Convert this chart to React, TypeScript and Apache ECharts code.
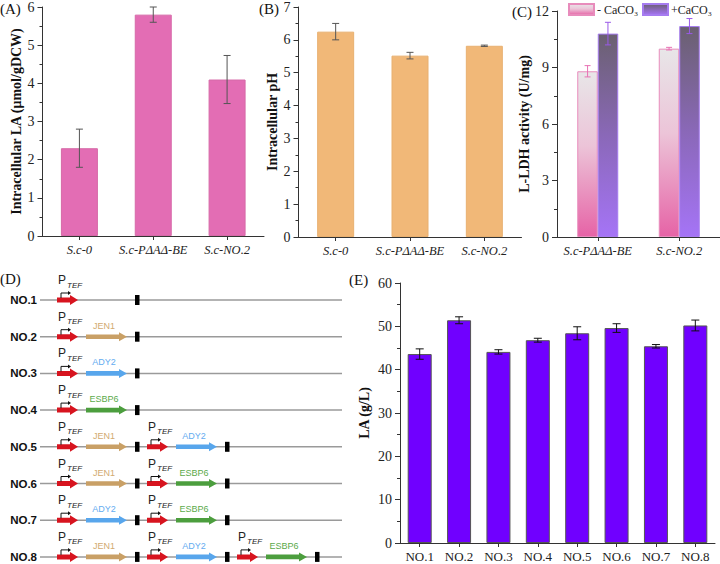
import React, { useEffect, useRef } from "react";
import * as echarts from "echarts";

const strainsAB = ["S.c-0", "S.c-PΔAΔ-BE", "S.c-NO.2"];
const laValues = [2.3, 5.8, 4.1];
const laErrors = [0.5, 0.2, 0.63];
const phValues = [6.25, 5.52, 5.82];
const phErrors = [0.25, 0.1, 0.02];
const strainsC = ["S.c-PΔAΔ-BE", "S.c-NO.2"];
const ldhMinus = [8.8, 10.0];
const ldhMinusErr = [0.3, 0.07];
const ldhPlus = [10.8, 11.2];
const ldhPlusErr = [0.6, 0.4];
const constructNames = ["NO.1", "NO.2", "NO.3", "NO.4", "NO.5", "NO.6", "NO.7", "NO.8"];
const titerValues = [43.6, 51.4, 44.1, 46.8, 48.4, 49.6, 45.4, 50.2];
const titerErrors = [1.2, 0.8, 0.5, 0.45, 1.5, 1.0, 0.4, 1.25];
const constructGenes: string[][] = [
  [""],
  ["JEN1"],
  ["ADY2"],
  ["ESBP6"],
  ["JEN1", "ADY2"],
  ["JEN1", "ESBP6"],
  ["ADY2", "ESBP6"],
  ["JEN1", "ADY2", "ESBP6"],
];
const geneColors: Record<string, string> = { JEN1: "#c9a066", ADY2: "#58a6ec", ESBP6: "#4c9e3e" };
const geneTextColors: Record<string, string> = { JEN1: "#d2aa70", ADY2: "#64acf0", ESBP6: "#5aaa4a" };

const SERIF = "'Liberation Serif', 'Times New Roman', serif";
const SANS = "'Liberation Sans', Arial, sans-serif";

function errorRender(offsetFrac: number, capHalf: number, color: string) {
  return (params: any, api: any) => {
    const idx = api.value(0);
    const lo = api.coord([idx, api.value(1)]);
    const hi = api.coord([idx, api.value(2)]);
    const band = api.size([1, 0])[0];
    const x = lo[0] + band * offsetFrac;
    const style = { stroke: color, lineWidth: 1 };
    return {
      type: "group",
      children: [
        { type: "line", shape: { x1: x, y1: lo[1], x2: x, y2: hi[1] }, style },
        { type: "line", shape: { x1: x - capHalf, y1: lo[1], x2: x + capHalf, y2: lo[1] }, style },
        { type: "line", shape: { x1: x - capHalf, y1: hi[1], x2: x + capHalf, y2: hi[1] }, style },
      ],
    };
  };
}

function errData(vals: number[], errs: number[]) {
  return vals.map((v, i) => [i, v - errs[i], v + errs[i]]);
}

function yAxisBase(grid: number, max: number, interval: number, name: string, nameGap: number) {
  return {
    type: "value",
    gridIndex: grid,
    min: 0,
    max,
    interval,
    name,
    nameLocation: "middle",
    nameGap,
    nameTextStyle: { fontFamily: SERIF, fontWeight: "bold", fontSize: 14, color: "#111" },
    axisLine: { show: true, lineStyle: { color: "#333", width: 1 } },
    axisTick: { show: true, length: 5, lineStyle: { color: "#333" } },
    minorTick: { show: true, splitNumber: 2, length: 3, lineStyle: { color: "#333" } },
    splitLine: { show: false },
    axisLabel: { fontFamily: SERIF, fontSize: 14, color: "#222", margin: 8 },
  };
}

function xAxisBase(grid: number, data: string[], italic: boolean) {
  return {
    type: "category",
    gridIndex: grid,
    data,
    axisLine: { show: true, lineStyle: { color: "#333", width: 1 } },
    axisTick: { show: true, alignWithLabel: true, length: 4, lineStyle: { color: "#333" } },
    axisLabel: {
      fontFamily: SERIF,
      fontSize: italic ? 12.5 : 13,
      fontStyle: italic ? "italic" : "normal",
      color: "#222",
      margin: 7,
      interval: 0,
    },
  };
}

function buildSchematic() {
  const els: any[] = [];
  const rowY0 = 300;
  const rowStep = 36.7;
  constructNames.forEach((name, i) => {
    const y = rowY0 + i * rowStep;
    els.push({
      type: "text",
      style: { text: name, x: 37, y, align: "right", verticalAlign: "middle", font: `bold 11.5px ${SANS}`, fill: "#111" },
    });
    els.push({
      type: "line",
      shape: { x1: 40, y1: y, x2: 342, y2: y },
      style: { stroke: "#9a9a9a", lineWidth: 1.5 },
    });
    constructGenes[i].forEach((gene, k) => {
      const p = 57 + k * 90;
      // promoter arrow
      els.push({
        type: "polygon",
        shape: {
          points: [
            [p, y - 2.5], [p + 13, y - 2.5], [p + 13, y - 5], [p + 21, y],
            [p + 13, y + 5], [p + 13, y + 2.5], [p, y + 2.5],
          ],
        },
        style: { fill: "#d7141f" },
      });
      // bent arrow
      els.push({
        type: "polyline",
        shape: { points: [[p + 4, y - 2], [p + 4, y - 7], [p + 11, y - 7]] },
        style: { stroke: "#111", lineWidth: 1, fill: null },
      });
      els.push({
        type: "polygon",
        shape: { points: [[p + 11, y - 9], [p + 14, y - 7], [p + 11, y - 5]] },
        style: { fill: "#111" },
      });
      // P TEF label
      els.push({
        type: "text",
        style: { text: "P", x: p + 1, y: y - 20, align: "left", verticalAlign: "middle", font: `12px ${SANS}`, fill: "#222" },
      });
      els.push({
        type: "text",
        style: { text: "TEF", x: p + 10, y: y - 15, align: "left", verticalAlign: "middle", font: `italic 8px ${SANS}`, fill: "#222" },
      });
      if (gene) {
        const g0 = p + 29;
        els.push({
          type: "polygon",
          shape: {
            points: [
              [g0, y - 2.3], [g0 + 33, y - 2.3], [g0 + 33, y - 4.5], [g0 + 41, y],
              [g0 + 33, y + 4.5], [g0 + 33, y + 2.3], [g0, y + 2.3],
            ],
          },
          style: { fill: geneColors[gene] },
        });
        els.push({
          type: "text",
          style: { text: gene, x: g0 + 18, y: y - 11, align: "center", verticalAlign: "middle", font: `9px ${SANS}`, fill: geneTextColors[gene] },
        });
      }
      // terminator
      els.push({ type: "rect", shape: { x: p + 78, y: y - 5, width: 4.5, height: 10 }, style: { fill: "#000" } });
    });
  });
  const panel = (t: string, x: number, y: number) => ({
    type: "text",
    style: { text: t, x, y, align: "left", verticalAlign: "middle", font: `15px ${SERIF}`, fill: "#111" },
  });
  els.push(panel("(A)", 0, 9));
  els.push(panel("(B)", 259, 9));
  els.push(panel("(C)", 512, 12));
  els.push(panel("(D)", 0, 279));
  els.push(panel("(E)", 349, 280));
  return els;
}

export default function App() {
  const ref = useRef<HTMLDivElement>(null);
  useEffect(() => {
    if (!ref.current) return;
    const chart = echarts.init(ref.current, undefined, { renderer: "svg" });
    const minusGrad = {
      type: "linear", x: 0, y: 0, x2: 0, y2: 1,
      colorStops: [{ offset: 0, color: "#e8e6e8" }, { offset: 0.45, color: "#ecc4d8" }, { offset: 1, color: "#e663a6" }],
    };
    const plusGrad = {
      type: "linear", x: 0, y: 0, x2: 0, y2: 1,
      colorStops: [{ offset: 0, color: "#6a6070" }, { offset: 0.5, color: "#8a68b8" }, { offset: 1, color: "#a574f6" }],
    };
    const legendCommon = {
      top: 3,
      padding: 0,
      itemWidth: 25,
      itemHeight: 11,
      icon: "rect",
      textStyle: { fontFamily: SERIF, fontSize: 12, color: "#222", padding: [0, 0, 0, -2] },
    };
    const option: any = {
      animation: false,
      backgroundColor: "#fff",
      grid: [
        { left: 42.5, top: 6.5, width: 221.5, height: 229.5 },
        { left: 298.5, top: 6, width: 223, height: 231 },
        { left: 557, top: 11, width: 163, height: 226 },
        { left: 400, top: 283, width: 315, height: 260 },
      ],
      legend: [
        { ...legendCommon, left: 568, data: ["- CaCO₃"] },
        { ...legendCommon, left: 642, data: ["+CaCO₃"] },
      ],
      xAxis: [
        xAxisBase(0, strainsAB, true),
        xAxisBase(1, strainsAB, true),
        xAxisBase(2, strainsC, true),
        xAxisBase(3, constructNames, false),
      ],
      yAxis: [
        yAxisBase(0, 6, 1, "Intracellular LA (μmol/gDCW)", 18),
        yAxisBase(1, 7, 1, "Intracellular pH", 16),
        yAxisBase(2, 12, 3, "L-LDH activity (U/mg)", 18),
        yAxisBase(3, 60, 10, "LA (g/L)", 29),
      ],
      series: [
        {
          type: "bar", xAxisIndex: 0, yAxisIndex: 0, data: laValues, barWidth: 37,
          itemStyle: { color: "#e36db4", borderColor: "#d66aa8", borderWidth: 1 },
        },
        {
          type: "custom", xAxisIndex: 0, yAxisIndex: 0, data: errData(laValues, laErrors),
          encode: { x: 0, y: [1, 2] }, renderItem: errorRender(0, 3.5, "#555"), z: 5,
        },
        {
          type: "bar", xAxisIndex: 1, yAxisIndex: 1, data: phValues, barWidth: 37,
          itemStyle: { color: "#f1b878", borderColor: "#e8b070", borderWidth: 1 },
        },
        {
          type: "custom", xAxisIndex: 1, yAxisIndex: 1, data: errData(phValues, phErrors),
          encode: { x: 0, y: [1, 2] }, renderItem: errorRender(0, 3.5, "#555"), z: 5,
        },
        {
          name: "- CaCO₃", type: "bar", xAxisIndex: 2, yAxisIndex: 2, data: ldhMinus,
          barWidth: 20.5, barGap: "0%",
          itemStyle: { color: minusGrad, borderColor: "#e88cbc", borderWidth: 1 },
        },
        {
          name: "+CaCO₃", type: "bar", xAxisIndex: 2, yAxisIndex: 2, data: ldhPlus,
          barWidth: 20.5, barGap: "0%",
          itemStyle: { color: plusGrad, borderColor: "#a67cf0", borderWidth: 1 },
        },
        {
          type: "custom", xAxisIndex: 2, yAxisIndex: 2, data: errData(ldhMinus, ldhMinusErr),
          encode: { x: 0, y: [1, 2] }, renderItem: errorRender(-0.125, 3, "#e872b4"), z: 5,
        },
        {
          type: "custom", xAxisIndex: 2, yAxisIndex: 2, data: errData(ldhPlus, ldhPlusErr),
          encode: { x: 0, y: [1, 2] }, renderItem: errorRender(0.125, 3, "#9a5ae8"), z: 5,
        },
        {
          type: "bar", xAxisIndex: 3, yAxisIndex: 3, data: titerValues, barWidth: 24,
          itemStyle: { color: "#7000ff", borderColor: "#555", borderWidth: 1 },
        },
        {
          type: "custom", xAxisIndex: 3, yAxisIndex: 3, data: errData(titerValues, titerErrors),
          encode: { x: 0, y: [1, 2] }, renderItem: errorRender(0, 4, "#111"), z: 5,
        },
      ],
      graphic: { elements: buildSchematic() },
    };
    chart.setOption(option);
    return () => chart.dispose();
  }, []);
  return (
    <div
      ref={ref}
      style={{ position: "fixed", left: 0, top: 0, width: 720, height: 564, background: "#fff" }}
    />
  );
}
